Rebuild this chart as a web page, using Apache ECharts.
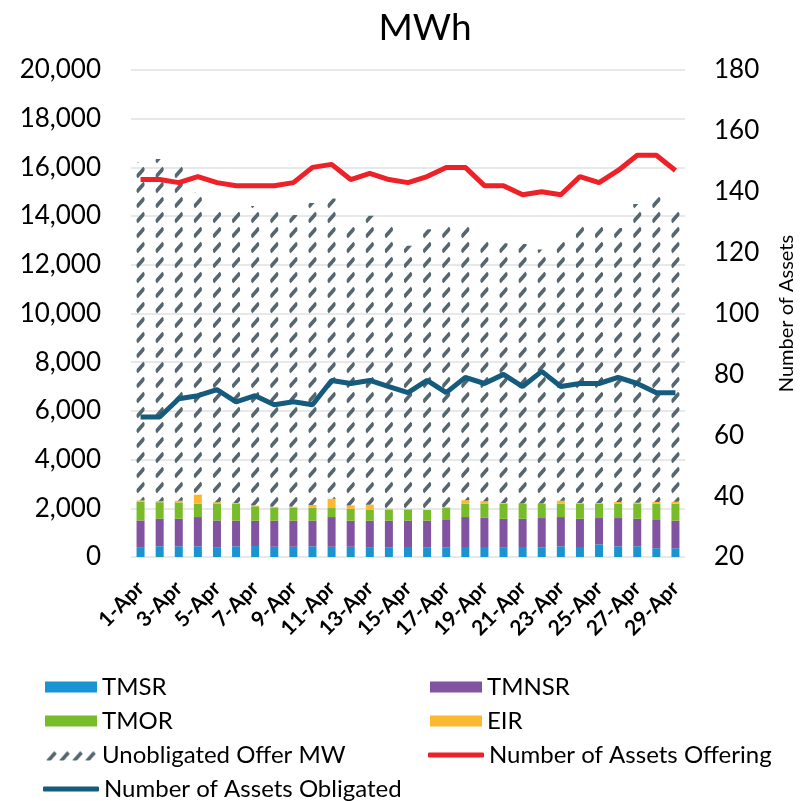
<!DOCTYPE html>
<html>
<head>
<meta charset="utf-8">
<script src="https://cdn.jsdelivr.net/npm/echarts@6/dist/echarts.min.js"></script>
<style>
  html, body { margin: 0; padding: 0; background: #fff; }
  #chart { width: 800px; height: 801px; }
</style>
</head>
<body>
<div id="chart"></div>
<script>
var days = ['1-Apr', '2-Apr', '3-Apr', '4-Apr', '5-Apr', '6-Apr', '7-Apr', '8-Apr', '9-Apr', '10-Apr',
  '11-Apr', '12-Apr', '13-Apr', '14-Apr', '15-Apr', '16-Apr', '17-Apr', '18-Apr', '19-Apr', '20-Apr',
  '21-Apr', '22-Apr', '23-Apr', '24-Apr', '25-Apr', '26-Apr', '27-Apr', '28-Apr', '29-Apr']

var tmsr = [380, 440, 440, 440, 380, 440, 450, 420, 420, 440, 420, 420, 380, 400, 410,
  400, 400, 410, 410, 380, 410, 400, 440, 410, 520, 440, 440, 360, 360]
var tmnsr = [1120, 1130, 1130, 1200, 1120, 1050, 1040, 1070, 1070, 1050, 1220, 1070, 1110, 1090, 1080,
  1090, 1120, 1230, 1200, 1190, 1160, 1200, 1200, 1160, 1080, 1160, 1130, 1160, 1130]
var tmor = [770, 680, 670, 550, 680, 700, 590, 530, 530, 530, 370, 490, 440, 450, 440,
  440, 490, 550, 570, 620, 620, 590, 550, 620, 590, 590, 620, 670, 700]
var eir = [50, 40, 70, 370, 70, 30, 30, 40, 40, 120, 380, 140, 220, 40, 40,
  10, 30, 140, 110, 30, 10, 10, 120, 30, 30, 70, 40, 70, 80]
var unobligated = [13880, 14060, 13790, 12400, 11950, 12060, 12300, 12210, 11990, 12400, 12330, 11430, 11860, 11620, 10810,
  11520, 11650, 11360, 10800, 10670, 10650, 10430, 10640, 11370, 11370, 11250, 12270, 12530, 12010]

var offering = [144, 144, 143, 145, 143, 142, 142, 142, 143, 148, 149, 144, 146, 144, 143,
  145, 148, 148, 142, 142, 139, 140, 139, 145, 143, 147, 152, 152, 147]
var obligated = [66, 66, 72, 73, 75, 71, 73, 70, 71, 70, 78, 77, 78, 76, 74,
  78, 74, 79, 77, 80, 76, 81, 76, 77, 77, 79, 77, 74, 74]

var FONT = 'Lato'
var HATCH = '#56666f'

// grid geometry, the hatch tile lines its marks up with the bar centres
var gridLeft = 131
var gridWidth = 554
var catW = gridWidth / days.length

function hatchTile(w, h, centres, half, lw) {
  var c = document.createElement('canvas')
  c.width = w
  c.height = h
  var ctx = c.getContext('2d')
  ctx.strokeStyle = HATCH
  ctx.lineWidth = lw
  centres.forEach(function (cx) {
    [cx - w, cx, cx + w].forEach(function (x) {
      ctx.beginPath()
      ctx.moveTo(x - half, 12)
      ctx.lineTo(x + half, 3)
      ctx.stroke()
    })
  })
  return c
}

var tileW = Math.round(catW * 10)
var centres = []
for (var k = 0; k < 10; k++) {
  centres.push((gridLeft + catW / 2 + catW * k) % tileW)
}
var barHatch = { image: hatchTile(tileW, 15, centres, 4, 3.6), repeat: 'repeat' }
var legendHatch = { image: hatchTile(13, 15, [6.5], 4, 3.6), repeat: 'repeat' }

var chart = echarts.init(document.getElementById('chart'))

function bar(name, data, color) {
  return {
    name: name,
    type: 'bar',
    stack: 'mw',
    barWidth: 8,
    data: data,
    itemStyle: { color: color }
  }
}

function line(name, data, color) {
  return {
    name: name,
    type: 'line',
    yAxisIndex: 1,
    symbol: 'none',
    data: data,
    lineStyle: { color: color, width: 5 },
    itemStyle: { color: color },
    z: 5
  }
}

// one legend per entry so that each row sits where the reference puts it
function legendItem(name, left, rowY, isLine, style) {
  var item = { name: name, icon: isLine ? 'roundRect' : 'rect' }
  if (style) item.itemStyle = style
  return {
    left: left,
    top: rowY - 12,
    padding: 0,
    itemWidth: isLine ? 56 : 52,
    itemHeight: isLine ? 5 : 11,
    itemGap: 6,
    textStyle: { fontFamily: FONT, fontSize: 24, color: '#000', lineHeight: 24 },
    data: [item]
  }
}

var rows = [687, 721, 755, 789]

chart.setOption({
  animation: false,
  title: {
    text: 'MWh',
    left: 420,
    textAlign: 'center',
    top: 5,
    textStyle: { fontFamily: FONT, fontSize: 37, fontWeight: 'normal', color: '#000' }
  },
  legend: [
    legendItem('TMSR', 45, rows[0], false),
    legendItem('TMNSR', 430, rows[0], false),
    legendItem('TMOR', 45, rows[1], false),
    legendItem('EIR', 430, rows[1], false),
    legendItem('Unobligated Offer MW', 45, rows[2], false, { color: legendHatch }),
    legendItem('Number of Assets Offering', 428, rows[2], true),
    legendItem('Number of Assets Obligated', 43, rows[3], true)
  ],
  grid: {
    left: gridLeft,
    width: gridWidth,
    top: 70,
    height: 487,
    outerBoundsMode: 'none'
  },
  xAxis: {
    type: 'category',
    data: days,
    axisTick: { show: false },
    axisLine: { show: false },
    axisLabel: {
      interval: 1,
      rotate: 45,
      margin: 28,
      fontFamily: FONT,
      fontSize: 21,
      fontWeight: 'bold',
      color: '#000'
    }
  },
  yAxis: [
    {
      type: 'value',
      min: 0,
      max: 20000,
      interval: 2000,
      axisLine: { show: false },
      axisTick: { show: false },
      splitLine: { lineStyle: { color: '#dfe2e2', width: 1.5 } },
      axisLabel: {
        margin: 30,
        fontFamily: FONT,
        fontSize: 26,
        color: '#000',
        formatter: function (v) { return v.toLocaleString('en-US') }
      }
    },
    {
      type: 'value',
      min: 20,
      max: 180,
      interval: 20,
      position: 'right',
      name: 'Number of Assets',
      nameLocation: 'middle',
      nameRotate: 90,
      nameGap: 92,
      nameTextStyle: { fontFamily: FONT, fontSize: 20, color: '#000' },
      axisLine: { show: false },
      axisTick: { show: false },
      splitLine: { show: false },
      axisLabel: {
        margin: 29,
        fontFamily: FONT,
        fontSize: 26,
        color: '#000'
      }
    }
  ],
  series: [
    bar('TMSR', tmsr, '#1a93d3'),
    bar('TMNSR', tmnsr, '#8153a0'),
    bar('TMOR', tmor, '#78bc2a'),
    bar('EIR', eir, '#fbb830'),
    bar('Unobligated Offer MW', unobligated, barHatch),
    line('Number of Assets Offering', offering, '#ed2127'),
    line('Number of Assets Obligated', obligated, '#145b7d')
  ]
})
</script>
</body>
</html>
